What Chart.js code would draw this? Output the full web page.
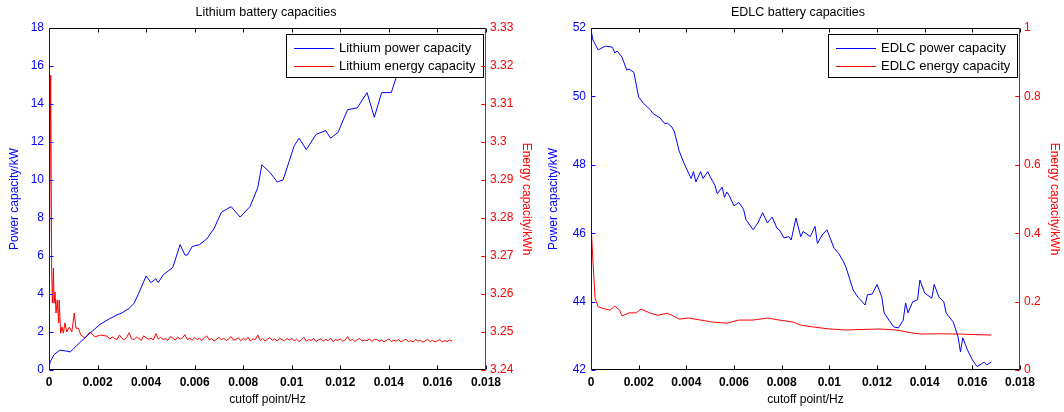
<!DOCTYPE html>
<html>
<head>
<meta charset="utf-8">
<script src="https://cdn.jsdelivr.net/npm/chart.js@4"></script>
<style>
    body { margin: 0; background: #fff; }
    #wrap { display: flex; width: 1064px; height: 412px; }
    canvas { display: block; }
</style>
</head>
<body>
<div id="wrap">
    <canvas id="liChart" width="532" height="412"></canvas>
    <canvas id="edlcChart" width="532" height="412"></canvas>
</div>
<script>
// Data
const xTicks = [0, 0.002, 0.004, 0.006, 0.008, 0.01, 0.012, 0.014, 0.016, 0.018];

// Lithium power capacity (kW)
const liPowerX = [0, 0.00004, 0.0002, 0.00045, 0.0007, 0.00087, 0.001, 0.00115, 0.0014, 0.0017, 0.0021, 0.0025, 0.0028, 0.003, 0.0033, 0.0035, 0.0037, 0.004, 0.0042, 0.0044, 0.0045, 0.0047, 0.0051, 0.0054, 0.0056, 0.0057, 0.0059, 0.0062, 0.0065, 0.0068, 0.0071, 0.0073, 0.0075, 0.00787, 0.00828, 0.0086, 0.00877, 0.0091, 0.0094, 0.00964, 0.0101, 0.0103, 0.0106, 0.011, 0.0114, 0.0116, 0.0119, 0.0123, 0.0127, 0.0131, 0.0134, 0.0137, 0.0141, 0.0143, 0.0149, 0.0153, 0.0157, 0.0161, 0.0166];
const liPowerY = [0.3, 0.4, 0.8, 1.05, 1.0, 0.95, 1.1, 1.3, 1.6, 1.95, 2.4, 2.7, 2.9, 3.0, 3.25, 3.5, 4.05, 4.95, 4.6, 4.8, 4.6, 5.0, 5.4, 6.6, 6.05, 6.05, 6.5, 6.6, 6.9, 7.45, 8.3, 8.45, 8.6, 8.05, 8.6, 9.6, 10.8, 10.4, 9.9, 10.0, 11.8, 12.2, 11.6, 12.4, 12.6, 12.2, 12.5, 13.7, 13.8, 14.6, 13.3, 14.6, 14.6, 15.4, 15.4, 15.5, 15.9, 16.2, 16.5];

// Lithium energy capacity (kWh)
const liEnergyX = [0, 0.00007, 0.00011, 0.00014, 0.00018, 0.00021, 0.00025, 0.00029, 0.00034, 0.0004, 0.00042, 0.00048, 0.00054, 0.00059, 0.00066, 0.00073, 0.00084, 0.00094, 0.00104, 0.00111, 0.00121, 0.00131, 0.00148, 0.00169, 0.0019, 0.0021,
    0.0024, 0.0025, 0.0026, 0.0027, 0.0028, 0.0029, 0.0030, 0.0031, 0.0032, 0.0033, 0.0034, 0.0035, 0.0036, 0.0037, 0.0038, 0.0039, 0.0040, 0.0041, 0.0042, 0.0043, 0.0044, 0.0045, 0.0046, 0.0047, 0.0048, 0.0049, 0.0050, 0.0051, 0.0052, 0.0053, 0.0054, 0.0055, 0.0056, 0.0057, 0.0058, 0.0059,
    0.0060, 0.0061, 0.0062, 0.0063, 0.0064, 0.0065, 0.0066, 0.0067, 0.0068, 0.0069, 0.0070, 0.0071, 0.0072, 0.0073, 0.0074, 0.0075, 0.0076, 0.0077, 0.0078, 0.0079, 0.0080, 0.0081, 0.0082, 0.0083, 0.0084, 0.0085, 0.0086, 0.0087, 0.0088, 0.0089, 0.0090, 0.0091, 0.0092, 0.0093, 0.0094, 0.0095, 0.0096, 0.0097, 0.0098, 0.0099,
    0.0100, 0.0101, 0.0102, 0.0103, 0.0104, 0.0105, 0.0106, 0.0107, 0.0108, 0.0109, 0.0110, 0.0111, 0.0112, 0.0113, 0.0114, 0.0115, 0.0116, 0.0117, 0.0118, 0.0119, 0.0120, 0.0121, 0.0122, 0.0123, 0.0124, 0.0125, 0.0126, 0.0127, 0.0128, 0.0129, 0.0130, 0.0131, 0.0132, 0.0133, 0.0134,
    0.0135, 0.0136, 0.0137, 0.0138, 0.0139, 0.0140, 0.0141, 0.0142, 0.0143, 0.0144, 0.0145, 0.0146, 0.0147, 0.0148, 0.0149, 0.0150, 0.0151, 0.0152, 0.0153, 0.0154, 0.0155, 0.0156, 0.0157, 0.0158, 0.0159, 0.0160, 0.0161, 0.0162, 0.0163, 0.0164, 0.0165, 0.0166];
const liEnergyY = [3.2510, 3.3176, 3.2668, 3.2576, 3.2668, 3.2576, 3.2605, 3.2550, 3.2584, 3.2524, 3.2584, 3.2497, 3.2513, 3.2497, 3.2524, 3.2500, 3.2513, 3.2500, 3.2550, 3.2510, 3.2510, 3.2492, 3.2484, 3.2500, 3.2487, 3.2492,
    3.2489, 3.2481, 3.2487, 3.2483, 3.2480, 3.2492, 3.2484, 3.2479, 3.2486, 3.2498, 3.2482, 3.2480, 3.2487, 3.2483, 3.2478, 3.2490, 3.2485, 3.2481, 3.2484, 3.2479, 3.2496, 3.2482, 3.2486, 3.2480, 3.2483, 3.2478, 3.2488, 3.2484, 3.2479, 3.2487, 3.2481, 3.2485, 3.2493, 3.2480, 3.2484, 3.2478,
    3.2486, 3.2480, 3.2483, 3.2477, 3.2485, 3.2490, 3.2479, 3.2483, 3.2476, 3.2481, 3.2486, 3.2479, 3.2484, 3.2477, 3.2482, 3.2488, 3.2478, 3.2481, 3.2485, 3.2477, 3.2483, 3.2479, 3.2486, 3.2476, 3.2482, 3.2480, 3.2492, 3.2478, 3.2483, 3.2477, 3.2481, 3.2485, 3.2478, 3.2482, 3.2476, 3.2484, 3.2480, 3.2477, 3.2483, 3.2479,
    3.2483, 3.2477, 3.2481, 3.2475, 3.2480, 3.2486, 3.2476, 3.2480, 3.2478, 3.2483, 3.2475, 3.2479, 3.2482, 3.2476, 3.2481, 3.2477, 3.2484, 3.2475, 3.2480, 3.2478, 3.2482, 3.2476, 3.2479, 3.2488, 3.2477, 3.2481, 3.2475, 3.2480, 3.2483, 3.2476, 3.2479, 3.2477, 3.2482, 3.2475, 3.2480,
    3.2481, 3.2475, 3.2479, 3.2474, 3.2478, 3.2482, 3.2475, 3.2478, 3.2476, 3.2480, 3.2474, 3.2478, 3.2481, 3.2475, 3.2477, 3.2474, 3.2480, 3.2476, 3.2478, 3.2473, 3.2477, 3.2481, 3.2475, 3.2478, 3.2474, 3.2477, 3.2480, 3.2474, 3.2477, 3.2475, 3.2479, 3.2476];

// EDLC power capacity (kW)
const edlcPowerX = [0, 0.00008, 0.0003, 0.0006, 0.0009, 0.001, 0.0011, 0.0013, 0.0015, 0.0016, 0.0018, 0.002, 0.0022, 0.0025, 0.0026, 0.0029, 0.0031, 0.0032, 0.0034, 0.0035, 0.0037, 0.0039, 0.0042, 0.0043, 0.0044, 0.0046, 0.0047, 0.0049, 0.005, 0.0052, 0.0053, 0.0055, 0.0056, 0.0057, 0.0058, 0.006, 0.0062, 0.0064, 0.0065, 0.0068, 0.007, 0.0072, 0.0074, 0.0076, 0.0078, 0.0079, 0.0081, 0.0083, 0.0084, 0.0086, 0.0088, 0.0089, 0.0092, 0.0094, 0.0095, 0.0097, 0.0099, 0.0102, 0.0104, 0.0106, 0.0107, 0.011, 0.0112, 0.0115, 0.0116, 0.0118, 0.012, 0.0122, 0.0123, 0.0125, 0.0127, 0.0129, 0.0131, 0.0132, 0.0133, 0.0135, 0.0137, 0.0138, 0.014, 0.0141, 0.0143, 0.0144, 0.0146, 0.0148, 0.0149, 0.0152, 0.0154, 0.0155, 0.0156, 0.0158, 0.016, 0.0162, 0.0165, 0.0166, 0.0168];
const edlcPowerY = [51.94, 51.65, 51.36, 51.47, 51.44, 51.27, 51.33, 51.15, 50.77, 50.80, 50.70, 49.98, 49.80, 49.60, 49.50, 49.37, 49.20, 49.22, 49.10, 48.96, 48.40, 48.05, 47.60, 47.80, 47.50, 47.80, 47.60, 47.80, 47.65, 47.40, 47.15, 47.35, 47.05, 47.20, 47.10, 46.80, 46.90, 46.70, 46.40, 46.10, 46.30, 46.60, 46.30, 46.47, 46.15, 46.10, 45.86, 45.90, 45.80, 46.44, 45.90, 46.05, 45.90, 46.20, 45.70, 45.95, 46.10, 45.56, 45.40, 45.16, 45.00, 44.34, 44.13, 43.90, 44.20, 44.22, 44.50, 44.14, 43.67, 43.46, 43.26, 43.23, 43.46, 43.96, 43.67, 44.00, 44.05, 44.63, 44.25, 44.20, 44.10, 44.50, 44.13, 44.00, 43.67, 43.40, 42.97, 42.53, 42.94, 42.58, 42.30, 42.10, 42.23, 42.15, 42.23];

// EDLC energy capacity (kWh)
const edlcEnergyX = [0, 0.00002, 0.00008, 0.00017, 0.0003, 0.0005, 0.0008, 0.001, 0.0012, 0.0013, 0.0016, 0.0019, 0.0021, 0.0025, 0.0028, 0.0032, 0.0034, 0.0037, 0.0041, 0.0046, 0.0051, 0.0057, 0.0062, 0.0068, 0.0074, 0.0079, 0.0085, 0.0088, 0.0093, 0.01, 0.0107, 0.0121, 0.0128, 0.0135, 0.0139, 0.0146, 0.0155, 0.0168];
const edlcEnergyY = [0.83, 0.40, 0.32, 0.21, 0.185, 0.18, 0.175, 0.187, 0.175, 0.158, 0.167, 0.167, 0.178, 0.166, 0.16, 0.166, 0.16, 0.149, 0.152, 0.146, 0.14, 0.137, 0.146, 0.146, 0.152, 0.146, 0.14, 0.131, 0.126, 0.12, 0.117, 0.12, 0.117, 0.108, 0.105, 0.106, 0.105, 0.102];

const BLUE = 'rgb(0, 0, 255)';
const RED = 'rgb(255, 0, 0)';
const FONT = '"Liberation Sans", Arial, sans-serif';

// Turn two arrays into {x, y} points
function toPoints(xs, ys) {
    return xs.map((x, i) => ({ x: x, y: ys[i] }));
}

function fmt(v) {
    return String(+v.toFixed(4));
}

// Frame with MATLAB style inward ticks
const framePlugin = {
    id: 'frame',
    afterDraw(chart, args, opts) {
        const { ctx, chartArea: a, scales } = chart;
        const tl = 4;
        const L = a.left + 0.5, R = a.right - 0.5, T = a.top + 0.5, B = a.bottom - 0.5;
        const seg = (x1, y1, x2, y2, c) => {
            ctx.strokeStyle = c;
            ctx.beginPath();
            ctx.moveTo(x1, y1);
            ctx.lineTo(x2, y2);
            ctx.stroke();
        };
        ctx.save();
        ctx.lineWidth = 1;
        scales.x.ticks.forEach(t => {
            const px = Math.round(scales.x.getPixelForValue(t.value)) + 0.5;
            seg(px, B, px, B - tl, '#000');
            seg(px, T, px, T + tl, '#000');
        });
        scales.y.ticks.forEach(t => {
            const py = Math.round(scales.y.getPixelForValue(t.value)) + 0.5;
            seg(L, py, L + tl, py, BLUE);
            seg(R, py, R - tl, py, BLUE);
        });
        scales.y1.ticks.forEach(t => {
            const py = Math.round(scales.y1.getPixelForValue(t.value)) + 0.5;
            seg(R, py, R - tl, py, RED);
        });
        seg(a.left, T, a.right, T, '#000');
        seg(a.left, B, a.right, B, '#000');
        seg(L, a.top, L, a.bottom, BLUE);
        seg(R, a.top, R, a.bottom, opts.rightColor || RED);
        ctx.restore();
    }
};

// Legend box drawn inside the plot, top right
const boxLegend = {
    id: 'boxLegend',
    afterDatasetsDraw(chart) {
        const { ctx, chartArea: a } = chart;
        const sets = chart.data.datasets;
        ctx.save();
        ctx.font = '13px ' + FONT;
        const tw = Math.max(...sets.map(d => ctx.measureText(d.label).width));
        const w = Math.round(8 + 40 + 5 + tw + 7), h = 43;
        const x = a.right - 3 - w, y = a.top + 6;
        ctx.fillStyle = '#fff';
        ctx.fillRect(x, y, w, h);
        ctx.strokeStyle = '#000';
        ctx.lineWidth = 1;
        ctx.strokeRect(x + 0.5, y + 0.5, w, h);
        sets.forEach((d, i) => {
            const ry = y + 13.5 + i * 18;
            ctx.strokeStyle = d.borderColor;
            ctx.beginPath();
            ctx.moveTo(x + 8, Math.round(ry) + 0.5);
            ctx.lineTo(x + 48, Math.round(ry) + 0.5);
            ctx.stroke();
            ctx.fillStyle = '#000';
            ctx.textBaseline = 'middle';
            ctx.fillText(d.label, x + 53, ry + 1);
        });
        ctx.restore();
    }
};

function makeChart(id, cfg) {
    const ctx = document.getElementById(id).getContext('2d');
    return new Chart(ctx, {
        type: 'line',
        data: {
            datasets: [{
                label: cfg.powerLabel,
                data: toPoints(cfg.powerX, cfg.powerY),
                borderColor: BLUE,
                borderWidth: 1,
                yAxisID: 'y'
            }, {
                label: cfg.energyLabel,
                data: toPoints(cfg.energyX, cfg.energyY),
                borderColor: RED,
                borderWidth: 1,
                yAxisID: 'y1'
            }]
        },
        options: {
            responsive: false,
            animation: false,
            events: [],
            elements: { point: { radius: 0 }, line: { tension: 0 } },
            layout: { padding: 0 },
            plugins: {
                legend: { display: false },
                tooltip: { enabled: false },
                title: {
                    display: true,
                    text: cfg.title,
                    color: '#000',
                    font: { family: FONT, size: 12.5, weight: 'normal' },
                    padding: { top: 5, bottom: 8 }
                },
                frame: { rightColor: cfg.rightColor }
            },
            scales: {
                x: {
                    type: 'linear',
                    min: 0,
                    max: 0.018,
                    afterBuildTicks: s => { s.ticks = xTicks.map(v => ({ value: v })); },
                    grid: { display: false, drawTicks: false },
                    border: { display: false },
                    ticks: { color: '#000', padding: 5, maxRotation: 0, font: { family: FONT, size: 12, weight: 'bold' }, callback: v => fmt(v) },
                    title: { display: true, text: 'cutoff point/Hz', color: '#000', font: { family: FONT, size: 12 }, padding: { top: 0, bottom: 5 } },
                    afterFit: s => { s.height = 42; }
                },
                y: {
                    position: 'left',
                    min: cfg.yMin,
                    max: cfg.yMax,
                    ticks: { stepSize: cfg.yStep, color: BLUE, padding: 5, font: { family: FONT, size: 12 }, callback: v => fmt(v) },
                    grid: { display: false, drawTicks: false },
                    border: { display: false },
                    title: { display: true, text: 'Power capacity/kW', color: BLUE, font: { family: FONT, size: 12 }, padding: { top: cfg.yTitlePad, bottom: 0 } },
                    afterFit: s => { s.width = cfg.leftW; }
                },
                y1: {
                    position: 'right',
                    min: cfg.y1Min,
                    max: cfg.y1Max,
                    ticks: { stepSize: cfg.y1Step, color: RED, padding: 4, font: { family: FONT, size: 12 }, callback: v => fmt(v) },
                    grid: { display: false, drawTicks: false },
                    border: { display: false },
                    title: { display: true, text: 'Energy capacity/kWh', color: RED, font: { family: FONT, size: 12 }, padding: { top: cfg.y1TitlePad, bottom: 0 } },
                    afterFit: s => { s.width = cfg.rightW; }
                }
            }
        },
        plugins: [boxLegend, framePlugin]
    });
}

document.addEventListener('DOMContentLoaded', () => {
    makeChart('liChart', {
        title: 'Lithium battery capacities',
        powerLabel: 'Lithium power capacity',
        energyLabel: 'Lithium energy capacity',
        powerX: liPowerX, powerY: liPowerY,
        energyX: liEnergyX, energyY: liEnergyY,
        yMin: 0, yMax: 18, yStep: 2,
        y1Min: 3.24, y1Max: 3.33, y1Step: 0.01,
        leftW: 49, rightW: 46,
        yTitlePad: 7, y1TitlePad: -2,
        rightColor: 'rgb(160, 32, 128)'
    });
    makeChart('edlcChart', {
        title: 'EDLC battery capacities',
        powerLabel: 'EDLC power capacity',
        energyLabel: 'EDLC energy capacity',
        powerX: edlcPowerX, powerY: edlcPowerY,
        energyX: edlcEnergyX, energyY: edlcEnergyY,
        yMin: 42, yMax: 52, yStep: 2,
        y1Min: 0, y1Max: 1, y1Step: 0.2,
        leftW: 59, rightW: 44,
        yTitlePad: 14, y1TitlePad: 2,
        rightColor: RED
    });
});
</script>
</body>
</html>
